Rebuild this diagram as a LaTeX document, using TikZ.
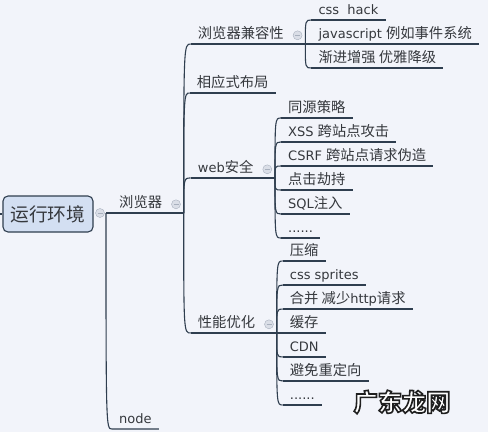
\documentclass[tikz,border=0pt]{standalone}
\usepackage{fontspec}
\setmainfont{DejaVu Sans}
\newfontfamily\cjk[Scale=1.1]{Noto Sans CJK SC}
\usetikzlibrary{positioning}
\newcommand{\zh}[1]{{\cjk #1}}
\newcommand{\outlined}[1]{{\color{white}\special{pdf:code 2 Tr 1.6 w 0.12 G}#1\special{pdf:code 0 Tr 1 w}}}
\definecolor{paper}{HTML}{F2F4FA}
\definecolor{linecol}{HTML}{2F3E4F}
\definecolor{textcol}{HTML}{35383D}
\definecolor{rootfill}{HTML}{D3DFF2}
\definecolor{foldfill}{HTML}{DADEE7}
\definecolor{foldline}{HTML}{A8B0BE}
\tikzset{
  branch/.style={draw=linecol, line width=1.1pt},
  topic/.style={anchor=south west, inner xsep=7pt, inner ysep=2pt, text height=10pt, text depth=3pt, text=textcol, font=\fontsize{13}{15}\selectfont},
  rootbox/.style={draw=linecol, fill=rootfill, rounded corners=5pt, line width=1.1pt, minimum width=90pt, minimum height=36pt, text=textcol, font=\cjk\fontsize{17}{20}\selectfont},
  foldmark/.style={circle, draw=foldline, fill=foldfill, minimum size=9pt, inner sep=0pt,
    path picture={\draw[foldline, line width=0.8pt] ([xshift=-2.5pt]path picture bounding box.center) -- ([xshift=2.5pt]path picture bounding box.center);}},
  mark text/.style={font=\cjk\bfseries\fontsize{22}{24}\selectfont}
}

\begin{document}
\begin{tikzpicture}[x=1pt,y=-1pt]
\fill[paper] (0,0) rectangle (488,432);
\useasboundingbox (0,0) rectangle (488,432);

\node[rootbox] (root) at (48,214) {运行环境};
\node[foldmark] (rootf) at (100,213) {};
\coordinate (rootj) at (106,213);
\coordinate (edge) at (0,214);
\draw[branch] (edge) -- (root.west);

\node[topic] (llq) at (112,213) {\zh{浏览器}};
\node[foldmark, right=2pt of llq] (llqf) {};
\coordinate (llqj) at ([xshift=3pt]llqf.east |- llq.south);
\node[topic] (nd) at (112,429) {node};

\node[topic] (bc) at ([shift={(7,-169)}]llqj) {\zh{浏览器兼容性}};
\node[foldmark, right=2pt of bc] (bcf) {};
\coordinate (bcj) at ([xshift=3pt]bcf.east |- bc.south);
\node[topic] (xy) at ([shift={(6,-120)}]llqj) {\zh{相应式布局}};
\node[topic] (web) at ([shift={(7,-35)}]llqj) {web\zh{安全}};
\node[foldmark, right=2pt of web] (webf) {};
\coordinate (webj) at ([xshift=3pt]webf.east |- web.south);
\node[topic] (perf) at ([shift={(7,120)}]llqj) {\zh{性能优化}};
\node[foldmark, right=2pt of perf] (perff) {};
\coordinate (perfj) at ([xshift=3pt]perff.east |- perf.south);

\node[topic] (css) at ([shift={(6,-24)}]bcj) {css\ \ hack};
\node[topic] (js) at ([shift={(6,0)}]bcj) {javascript \zh{例如事件系统}};
\node[topic] (jj) at ([shift={(6,24)}]bcj) {\zh{渐进增强 优雅降级}};

\node[topic] (tyc) at ([shift={(6,-60)}]webj) {\zh{同源策略}};
\node[topic] (xss) at ([shift={(6,-36)}]webj) {XSS \zh{跨站点攻击}};
\node[topic] (csrf) at ([shift={(6,-12)}]webj) {CSRF \zh{跨站点请求伪造}};
\node[topic] (djjc) at ([shift={(6,12)}]webj) {\zh{点击劫持}};
\node[topic] (sql) at ([shift={(6,36)}]webj) {SQL\zh{注入}};
\node[topic] (webm) at ([shift={(6,60)}]webj) {......};

\node[topic] (ys) at ([shift={(6,-72)}]perfj) {\zh{压缩}};
\node[topic] (spr) at ([shift={(6,-48)}]perfj) {css sprites};
\node[topic] (hb) at ([shift={(6,-24)}]perfj) {\zh{合并 减少}http\zh{请求}};
\node[topic] (hc) at ([shift={(6,0)}]perfj) {\zh{缓存}};
\node[topic] (cdn) at ([shift={(6,24)}]perfj) {CDN};
\node[topic] (cdx) at ([shift={(6,48)}]perfj) {\zh{避免重定向}};
\node[topic] (perfm) at ([shift={(6,72)}]perfj) {......};

\draw[branch] (rootj) -- (llq.south west) -- (llqj);
\draw[branch] (rootj) .. controls (rootj |- nd.south west) .. (nd.south west) -- (nd.south east);
\draw[branch] (bc.south west) -- (bcj);
\draw[branch] (web.south west) -- (webj);
\draw[branch] (perf.south west) -- (perfj);
\foreach \c in {bc,xy,web,perf}
  \draw[branch] (llqj) .. controls (llqj |- \c.south west) .. (\c.south west);
\foreach \c in {css,js,jj}
  \draw[branch] (bcj) .. controls (bcj |- \c.south west) .. (\c.south west);
\foreach \c in {tyc,xss,csrf,djjc,sql,webm}
  \draw[branch] (webj) .. controls (webj |- \c.south west) .. (\c.south west);
\foreach \c in {ys,spr,hb,hc,cdn,cdx,perfm}
  \draw[branch] (perfj) .. controls (perfj |- \c.south west) .. (\c.south west);
\foreach \c in {xy,css,js,jj,tyc,xss,csrf,djjc,sql,webm,ys,spr,hb,hc,cdn,cdx,perfm}
  \draw[branch] (\c.south west) -- (\c.south east);

\node[mark text] (wm) at (402,402) {\outlined{广东龙网}};
\end{tikzpicture}
\end{document}
